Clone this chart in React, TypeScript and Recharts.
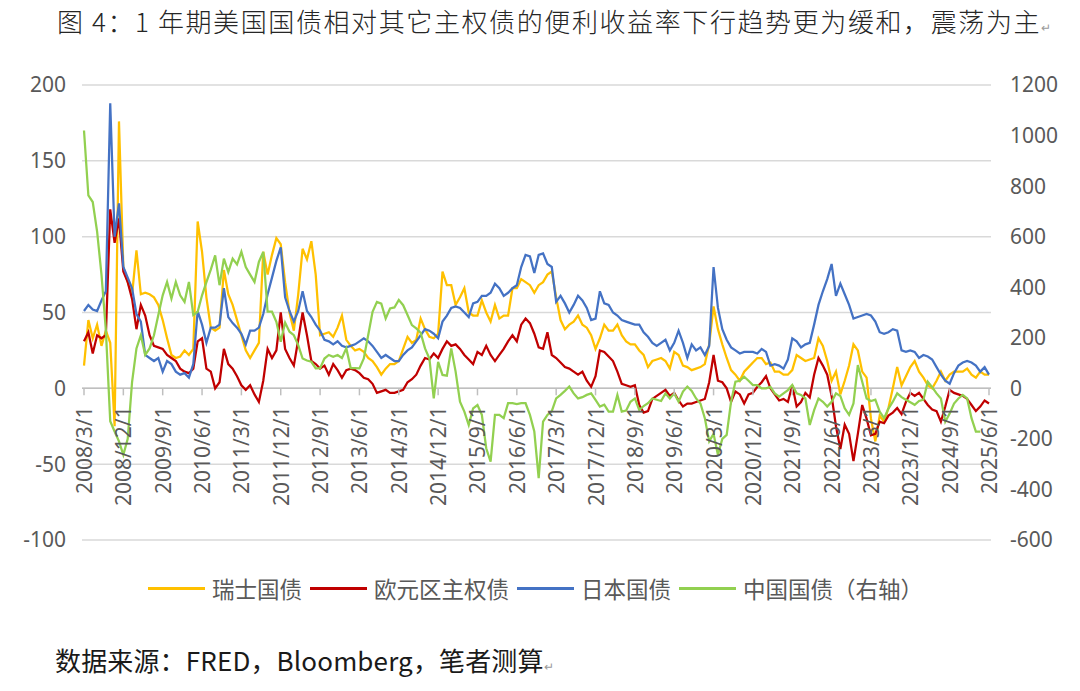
import { LineChart, Line, XAxis, YAxis, CartesianGrid, ReferenceLine } from 'recharts';

// monthly, 2008/3 .. 2025/6
const START_YEAR = 2008;
const START_MONTH = 3;
const MONTH_COUNT = 208;

const MONTHS: string[] = [];
for (let i = 0; i < MONTH_COUNT; i++) {
  const m = START_MONTH - 1 + i;
  MONTHS.push(`${START_YEAR + Math.floor(m / 12)}/${(m % 12) + 1}/1`);
}

const TICK_LABELS = [
  '2008/3/1', '2008/12/1', '2009/9/1', '2010/6/1', '2011/3/1', '2011/12/1',
  '2012/9/1', '2013/6/1', '2014/3/1', '2014/12/1', '2015/9/1', '2016/6/1',
  '2017/3/1', '2017/12/1', '2018/9/1', '2019/6/1', '2020/3/1', '2020/12/1',
  '2021/9/1', '2022/6/1', '2023/3/1', '2023/12/1', '2024/9/1', '2025/6/1',
];

const LEFT_TICKS = [-100, -50, 0, 50, 100, 150, 200];
const RIGHT_TICKS = [-600, -400, -200, 0, 200, 400, 600, 800, 1000, 1200];

// 瑞士国债
const SWISS = [
  15, 45, 33, 42, 28, 38, 30, -25, 176, 80, 70, 62, 91, 62, 63, 62,
  60, 55, 45, 33, 22, 20, 21, 25, 22, 26, 110, 90, 60, 40, 38, 40,
  78, 62, 55, 45, 35, 25, 20, 25, 30, 90, 75, 88, 99, 95, 70, 50,
  38, 62, 92, 85, 97, 75, 35, 36, 37, 34, 40, 48, 32, 28, 25, 26,
  24, 20, 18, 14, 9, 13, 16, 16, 18, 26, 34, 30, 32, 46, 39, 34,
  33, 36, 77, 68, 68, 55, 60, 66, 50, 48, 48, 58, 50, 44, 55, 46,
  48, 48, 66, 66, 72, 70, 68, 63, 68, 70, 75, 77, 60, 45, 39, 42,
  44, 48, 42, 40, 35, 26, 33, 42, 38, 38, 42, 35, 31, 29, 29, 25,
  22, 14, 18, 19, 20, 18, 13, 24, 22, 15, 14, 12, 13, 14, 16, 29,
  54, 39, 29, 20, 12, 9, 5, 11, 14, 17, 20, 20, 16, 17, 11, 11,
  9, 9, 12, 22, 20, 18, 19, 20, 33, 28, 18, 5, 11, -4, 5, 15,
  29, 25, 11, 7, -20, -35, -18, -22, -13, 0, 14, 2, 8, 14, 18, 11,
  7, 2, 0, 5, 11, 5, 9, 11, 11, 11, 13, 9, 7, 11, 9, 9,
];

// 欧元区主权债
const EURO = [
  31, 37, 23, 35, 33, 35, 118, 96, 112, 77, 70, 59, 39, 55, 48, 35,
  28, 27, 26, 22, 20, 18, 13, 11, 10, 13, 31, 33, 13, 11, 0, 4,
  26, 16, 13, 8, 2, -1, 2, -4, -9, 5, 26, 20, 25, 50, 26, 20,
  15, 32, 50, 35, 18, 16, 13, 15, 9, 16, 12, 7, 12, 13, 12, 10,
  7, 6, 3, -3, -2, -1, -3, -3, -2, -1, 4, 6, 9, 15, 20, 19,
  23, 20, 26, 31, 28, 29, 26, 22, 19, 16, 24, 22, 28, 22, 18, 22,
  26, 31, 35, 31, 42, 46, 43, 36, 27, 26, 37, 22, 20, 17, 14, 13,
  11, 9, 11, 5, 1, 8, 25, 24, 21, 18, 11, 3, 2, 1, 2, -11,
  -16, -15, -7, -5, -3, -1, -5, -3, -8, -12, -10, -10, -9, -8, -7, 4,
  22, 5, 4, 0, -9, -2, -4, -10, -4, -3, 1, 4, 8, 0, -4, -8,
  -7, -9, 2, -12, -9, -3, -6, 9, 20, 15, 9, -5, -25, -40, -24, -30,
  -48, -30, -11, -20, -31, -30, -22, -23, -18, -16, -13, -17, -9, -3, -5, -3,
  -7, -11, -14, -15, -22, -12, -1, -3, -4, -5, -7, -11, -15, -12, -8, -10,
];

// 日本国债
const JAPAN = [
  51, 55, 52, 51, 58, 64, 188, 100, 122, 80, 73, 66, 49, 44, 22, 20,
  18, 20, 11, 18, 16, 11, 9, 10, 7, 16, 51, 42, 30, 40, 40, 42,
  66, 47, 43, 40, 36, 29, 38, 38, 40, 49, 62, 73, 84, 93, 60, 51,
  44, 51, 64, 51, 47, 42, 38, 32, 31, 29, 31, 28, 27, 28, 29, 31,
  33, 31, 28, 24, 20, 22, 20, 18, 18, 22, 25, 27, 31, 35, 39, 38,
  36, 33, 44, 48, 53, 54, 53, 50, 47, 56, 57, 61, 61, 63, 69, 66,
  61, 63, 66, 68, 80, 88, 87, 76, 88, 89, 82, 80, 57, 61, 56, 50,
  55, 61, 58, 53, 45, 46, 64, 56, 55, 50, 48, 45, 44, 43, 42, 42,
  37, 34, 30, 28, 30, 32, 25, 30, 38, 30, 20, 29, 25, 27, 22, 28,
  80, 53, 39, 32, 27, 25, 23, 24, 24, 24, 23, 26, 24, 15, 16, 15,
  13, 19, 33, 31, 27, 29, 30, 42, 55, 64, 72, 82, 61, 69, 62, 55,
  46, 47, 48, 49, 48, 44, 37, 36, 37, 39, 38, 25, 24, 25, 24, 20,
  22, 21, 19, 14, 9, 5, 3, 10, 15, 17, 18, 17, 15, 11, 14, 9,
];

// 中国国债（右轴）
const CHINA: (number | null)[] = [
  1020, 763, 737, 620, 450, 230, -130, -171, -210, -263, -200, 26, 158, 210, 132, 158,
  210, 290, 368, 421, 355, 421, 368, 342, 421, 290, 303, 368, 420, 470, 526, 408,
  513, 460, 513, 490, 540, 480, 450, 421, 500, 540, 303, 303, 263, 184, 260, 224,
  210, 171, 118, 110, 105, 79, 80, 118, 132, 125, 132, 120, 158, 80, 80, 79,
  118, 210, 303, 342, 335, 276, 316, 320, 350, 329, 290, 250, 237, 220, 158, 118,
  -40, 105, 53, 50, 158, 66, -53, -92, -145, -79, -66, -105, -237, -290, -105, -105,
  -118, -59, -59, -62, -59, -59, -105, -171, -355, -132, -105, -90, -40, -26, -10, 7,
  -20, -40, -35, -26, -20, -46, -72, -65, -92, -92, -26, -92, -88, -53, -40, -86,
  -70, -59, -40, -45, -50, -20, -40, -20, -53, -13, 7, -10, -40, -60, -118, -210,
  -180, -263, -200, -184, -53, 26, 30, 46, 30, 13, 13, 0, 0, 6, -20, -33,
  -20, -7, 13, -20, -26, -40, -145, -86, -40, -53, -72, -53, -20, -30, -79, -105,
  -60, 92, 26, -40, -50, -45, -92, -118, -80, -53, -20, -35, -45, -55, -65, -50,
  -45, 26, 5, -20, -40, -132, -100, -60, -40, -26, -40, -118, -171, -171, null, null,
];

const SERIES = [
  { key: 'swiss', name: '瑞士国债', color: '#ffc000', axis: 'left' },
  { key: 'euro', name: '欧元区主权债', color: '#c00000', axis: 'left' },
  { key: 'japan', name: '日本国债', color: '#4472c4', axis: 'left' },
  { key: 'china', name: '中国国债（右轴）', color: '#92d050', axis: 'right' },
];

const data = MONTHS.map((month, i) => ({
  month,
  swiss: SWISS[i],
  euro: EURO[i],
  japan: JAPAN[i],
  china: CHINA[i],
}));

const PLOT_TOP = 85;
const PLOT_BOTTOM = 540;
const ZERO_Y = PLOT_TOP + ((PLOT_BOTTOM - PLOT_TOP) * 200) / 300;

const AXIS_FONT = { fontSize: 21, fill: '#595959', fontFamily: '"Noto Sans", sans-serif' };
const CJK = '"Noto Sans CJK SC", "Noto Sans", sans-serif';

// x labels hang below the zero line, not the bottom of the plot
function DateTick({ x, payload }: any) {
  const ty = ZERO_Y + 18;
  return (
    <g>
      <line x1={x} x2={x} y1={ZERO_Y} y2={ZERO_Y + 7} stroke="#bfbfbf" strokeWidth={1.5} />
      <text
        x={x}
        y={ty}
        transform={`rotate(-90 ${x} ${ty})`}
        textAnchor="end"
        dominantBaseline="central"
        {...AXIS_FONT}
      >
        {payload.value}
      </text>
    </g>
  );
}

export default function App() {
  return (
    <div style={{ position: 'absolute', left: 0, top: 0, width: 1080, height: 691, background: '#fff', fontFamily: CJK }}>
      <div style={{ position: 'absolute', left: 57, top: 4, fontSize: 26, lineHeight: '34px', color: '#262626', letterSpacing: 1.6, whiteSpace: 'nowrap', fontWeight: 300 }}>
        图 4：1 年期美国国债相对其它主权债的便利收益率下行趋势更为缓和，震荡为主
        <span style={{ fontSize: 12, color: '#9a9a9a', letterSpacing: 0 }}>↵</span>
      </div>

      <LineChart width={1080} height={560} data={data} margin={{ top: PLOT_TOP, right: 0, left: 0, bottom: 0 }}>
        <CartesianGrid yAxisId="left" vertical={false} stroke="#d9d9d9" strokeWidth={1.5} />
        <XAxis
          dataKey="month"
          ticks={TICK_LABELS}
          interval={0}
          height={20}
          padding={{ left: 2, right: 2 }}
          axisLine={false}
          tickLine={false}
          tick={<DateTick />}
        />
        <YAxis
          yAxisId="left"
          domain={[-100, 200]}
          ticks={LEFT_TICKS}
          width={82}
          axisLine={false}
          tickLine={false}
          tickMargin={10}
          tick={AXIS_FONT}
        />
        <YAxis
          yAxisId="right"
          orientation="right"
          domain={[-600, 1200]}
          ticks={RIGHT_TICKS}
          width={89}
          axisLine={false}
          tickLine={false}
          tickMargin={13}
          tick={{ ...AXIS_FONT, textAnchor: 'start' }}
        />
        <ReferenceLine yAxisId="left" y={0} stroke="#bfbfbf" strokeWidth={1.5} />
        {SERIES.map((s) => (
          <Line
            key={s.key}
            yAxisId={s.axis}
            type="linear"
            dataKey={s.key}
            name={s.name}
            stroke={s.color}
            strokeWidth={2.25}
            dot={false}
            isAnimationActive={false}
          />
        ))}
      </LineChart>

      <div style={{ position: 'absolute', left: 148, top: 573, height: 30, display: 'flex', alignItems: 'center', fontSize: 22.5, color: '#595959', whiteSpace: 'nowrap' }}>
        {SERIES.map((s) => (
          <div key={s.key} style={{ display: 'flex', alignItems: 'center', marginRight: 8 }}>
            <span style={{ display: 'inline-block', width: 57, height: 3, background: s.color, marginRight: 7 }} />
            <span>{s.name}</span>
          </div>
        ))}
      </div>

      <div style={{ position: 'absolute', left: 55, top: 643, fontSize: 26, lineHeight: '34px', color: '#1a1a1a', letterSpacing: 0.15, whiteSpace: 'nowrap' }}>
        数据来源：FRED，Bloomberg，笔者测算
        <span style={{ fontSize: 12, color: '#9a9a9a', letterSpacing: 0 }}>↵</span>
      </div>
    </div>
  );
}
